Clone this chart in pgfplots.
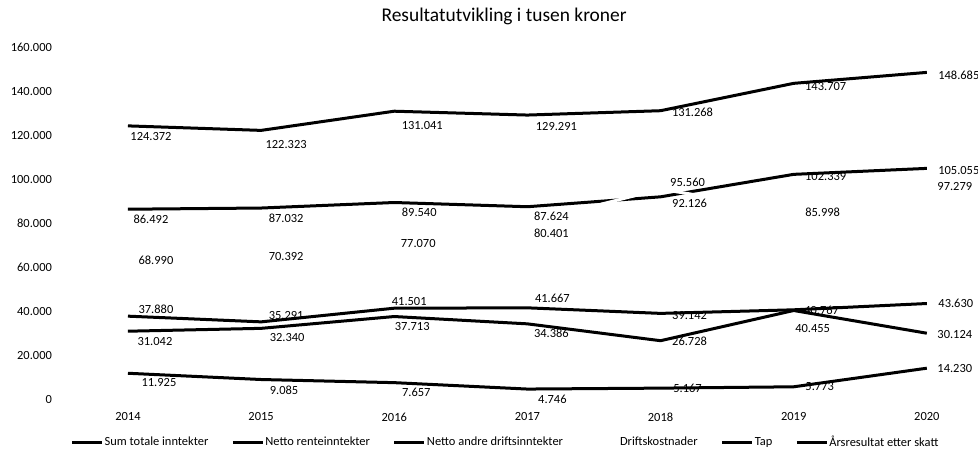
\documentclass[border=0pt]{standalone}
\usepackage{pgfplots}
\pgfplotsset{compat=1.18}
\usepackage{pgfplotstable}
\usepackage{fontspec}
\setmainfont{Carlito}

% columns: x, value (thousands), label offset dx, dy (bp, up positive), label text
\pgfplotstableread{
x y dx dy lab
0 124.372 23 -11 124.372
1 122.323 25 -14 122.323
2 131.041 28 -14 131.041
3 129.291 29 -11 129.291
4 131.268 32 -2 131.268
5 143.707 32 -3 143.707
6 148.685 32 -3 148.685
}\sumtab
\pgfplotstableread{
x y dx dy lab
0 86.492 23 -10 86.492
1 87.032 25 -10 87.032
2 89.540 25 -10 89.540
3 87.624 24 -10 87.624
4 92.126 29 -7 92.126
5 102.339 32 -2 102.339
6 105.055 32 -2 105.055
}\rentetab
\pgfplotstableread{
x y dx dy lab
0 37.880 28 7 37.880
1 35.291 25 6 35.291
2 41.501 15 7 41.501
3 41.667 25 9 41.667
4 39.142 29 -2 39.142
5 40.767 28 -1 40.767
6 43.630 29 0 43.630
}\andretab
\pgfplotstableread{
x y dx dy lab
0 68.990 28 -13 68.990
1 70.392 25 -12 70.392
2 77.070 24 -14 77.070
3 80.401 24 -11 80.401
4 95.560 27 7 95.560
5 85.998 29 -2 85.998
6 97.279 28 -1 97.279
}\drifttab
\pgfplotstableread{
x y dx dy lab
0 11.925 31 -9 11.925
1 9.085 23 -11 9.085
2 7.657 22 -10 7.657
3 4.746 25 -10 4.746
4 5.167 27 0 5.167
5 5.773 26 0 5.773
6 14.230 28 0 14.230
}\taptab
\pgfplotstableread{
x y dx dy lab
0 31.042 27 -10 31.042
1 32.340 26 -9 32.340
2 37.713 18 -10 37.713
3 34.386 24 -9 34.386
4 26.728 29 -1 26.728
5 40.455 19 -18 40.455
6 30.124 28 -1 30.124
}\arstab

\pgfplotsset{
  lbl/.style={draw=none, mark=none, forget plot,
    nodes near coords, point meta=explicit symbolic,
    visualization depends on={\thisrow{dx}\as\ldx},
    visualization depends on={\thisrow{dy}\as\ldy},
    every node near coord/.append style={anchor=center, inner sep=0pt,
      xshift=\ldx bp, yshift=\ldy bp, font=\fontsize{12.5}{15}\selectfont, text=black}},
  ln/.style={black, line width=3bp, line join=round, mark=none},
}

\begin{document}
\begin{tikzpicture}
\begin{axis}[
  name=ax,
  scale only axis,
  width=932bp, height=352bp,
  xmin=-0.5, xmax=6.5, ymin=0, ymax=160,
  clip=false,
  axis line style={draw=none},
  tick style={draw=none},
  xtick={0,1,2,3,4,5,6},
  xticklabels={2014,2015,2016,2017,2018,2019,2020},
  ytick={0,20,40,60,80,100,120,140,160},
  yticklabels={0,20.000,40.000,60.000,80.000,100.000,120.000,140.000,160.000},
  xticklabel style={anchor=center, yshift=-17.5bp, font=\fontsize{12.5}{15}\selectfont},
  yticklabel style={anchor=east, xshift=-6bp, font=\fontsize{12.5}{15}\selectfont},
  title={Resultatutvikling i tusen kroner},
  title style={at={(0.475,1.0568)}, anchor=base, inner sep=0pt, font=\fontsize{19.5}{23}\selectfont},
  legend columns=6,
  legend style={draw=none, fill=none, at={(0.476,-0.121)}, anchor=center,
    font=\fontsize{12.5}{15}\selectfont,
    nodes={inner sep=1bp},
    /tikz/every even column/.append style={column sep=22bp}},
  legend image code/.code={\draw[#1] (0bp,0bp) -- (30bp,0bp);},
]
% data labels first, so that the lines run over them
\addplot[lbl] table[x=x, y=y, meta=lab] {\sumtab};
\addplot[lbl] table[x=x, y=y, meta=lab] {\rentetab};
\addplot[lbl] table[x=x, y=y, meta=lab] {\andretab};
\addplot[lbl] table[x=x, y=y, meta=lab] {\drifttab};
\addplot[lbl] table[x=x, y=y, meta=lab] {\taptab};
\addplot[lbl] table[x=x, y=y, meta=lab] {\arstab};
% lines
\addplot[ln] table[x=x, y=y] {\sumtab};
\addlegendentry{Sum totale inntekter}
\addplot[ln] table[x=x, y=y] {\rentetab};
\addlegendentry{Netto renteinntekter}
\addplot[ln] table[x=x, y=y] {\andretab};
\addlegendentry{Netto andre driftsinntekter}
\addplot[ln, white] table[x=x, y=y] {\drifttab};
\addlegendentry{Driftskostnader}
\addplot[ln] table[x=x, y=y] {\taptab};
\addlegendentry{Tap}
\addplot[ln] table[x=x, y=y] {\arstab};
\addlegendentry{Årsresultat etter skatt}
\end{axis}
\pgfresetboundingbox
\path[use as bounding box] (ax.south west) ++(-61.4bp,-50.5bp) rectangle ++(978bp,450bp);
\end{tikzpicture}
\end{document}
